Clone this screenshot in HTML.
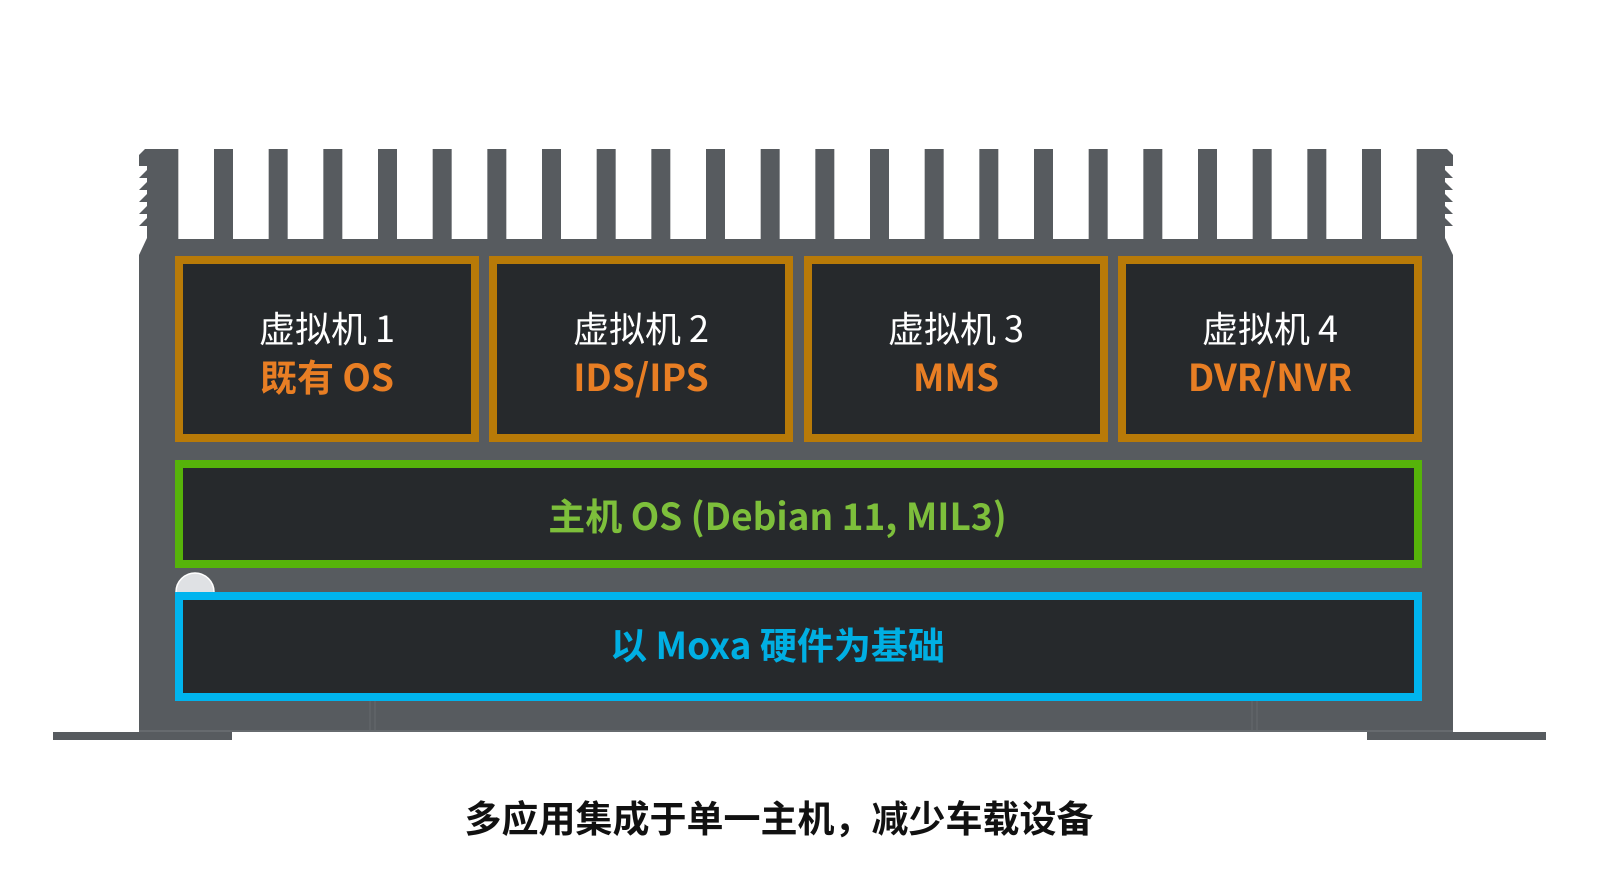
<!DOCTYPE html>
<html><head><meta charset="utf-8"><style>
html,body{margin:0;padding:0;background:#fff;}
body{width:1600px;height:892px;position:relative;overflow:hidden;font-family:"Liberation Sans","Noto Sans CJK SC",sans-serif;}
svg{position:absolute;left:0;top:0;}
.box{position:absolute;box-sizing:border-box;background:#26292c;display:flex;flex-direction:column;align-items:center;justify-content:center;text-align:center;}
.vm{border:8px solid #b87a08;top:256px;height:186px;width:304px;padding-top:4px;}
.w{color:#fff;font-size:36px;line-height:48px;font-family:"Noto Sans CJK SC",sans-serif;}
.o{color:#e87e24;font-size:37px;line-height:48px;font-weight:bold;font-family:"Noto Sans CJK SC",sans-serif;}
.t{font-family:"Noto Sans CJK SC",sans-serif;font-weight:bold;}
</style></head><body>
<svg width="1600" height="892" viewBox="0 0 1600 892">
<rect x="139" y="149" width="1314" height="583" fill="#575b5f"/>
<g fill="#fff">
<rect x="178.33" y="149" width="35.67" height="90"/>
<rect x="233.00" y="149" width="35.67" height="90"/>
<rect x="287.67" y="149" width="35.67" height="90"/>
<rect x="342.33" y="149" width="35.67" height="90"/>
<rect x="397.00" y="149" width="35.67" height="90"/>
<rect x="451.67" y="149" width="35.67" height="90"/>
<rect x="506.33" y="149" width="35.67" height="90"/>
<rect x="561.00" y="149" width="35.67" height="90"/>
<rect x="615.67" y="149" width="35.67" height="90"/>
<rect x="670.33" y="149" width="35.67" height="90"/>
<rect x="725.00" y="149" width="35.67" height="90"/>
<rect x="779.67" y="149" width="35.67" height="90"/>
<rect x="834.33" y="149" width="35.67" height="90"/>
<rect x="889.00" y="149" width="35.67" height="90"/>
<rect x="943.67" y="149" width="35.67" height="90"/>
<rect x="998.33" y="149" width="35.67" height="90"/>
<rect x="1053.00" y="149" width="35.67" height="90"/>
<rect x="1107.67" y="149" width="35.67" height="90"/>
<rect x="1162.33" y="149" width="35.67" height="90"/>
<rect x="1217.00" y="149" width="35.67" height="90"/>
<rect x="1271.67" y="149" width="35.67" height="90"/>
<rect x="1326.33" y="149" width="35.67" height="90"/>
<rect x="1381.00" y="149" width="35.67" height="90"/>
</g>
<polygon fill="#fff" points="138,149 145,149 139,155"/>
<polygon fill="#fff" points="1454,149 1447,149 1453,155"/>
<polygon fill="#fff" points="138,166 147,166 147,170 139,178 138,178"/>
<polygon fill="#fff" points="138,178 147,178 147,182 139,190 138,190"/>
<polygon fill="#fff" points="138,190 147,190 147,194 139,202 138,202"/>
<polygon fill="#fff" points="138,202 147,202 147,206 139,214 138,214"/>
<polygon fill="#fff" points="138,214 147,214 147,218 139,226 138,226"/>
<polygon fill="#fff" points="138,226 147,226 147,238 139,255 138,255"/>
<polygon fill="#fff" points="1454,166 1445,166 1445,170 1453,178 1454,178"/>
<polygon fill="#fff" points="1454,178 1445,178 1445,182 1453,190 1454,190"/>
<polygon fill="#fff" points="1454,190 1445,190 1445,194 1453,202 1454,202"/>
<polygon fill="#fff" points="1454,202 1445,202 1445,206 1453,214 1454,214"/>
<polygon fill="#fff" points="1454,214 1445,214 1445,218 1453,226 1454,226"/>
<polygon fill="#fff" points="1454,226 1445,226 1445,238 1453,255 1454,255"/>
<rect x="53" y="732" width="179" height="8" fill="#575b5f"/>
<rect x="1367" y="732" width="179" height="8" fill="#575b5f"/>
<line x1="139" y1="731" x2="1453" y2="731" stroke="#6b7074" stroke-width="1.5"/>
<line x1="370" y1="701" x2="370" y2="731" stroke="#65696d" stroke-width="1"/>
<line x1="375" y1="701" x2="375" y2="731" stroke="#65696d" stroke-width="1"/>
<line x1="1252" y1="701" x2="1252" y2="731" stroke="#65696d" stroke-width="1"/>
<line x1="1257" y1="701" x2="1257" y2="731" stroke="#65696d" stroke-width="1"/>
<circle cx="195" cy="592" r="19" fill="#dfe1e4" stroke="#fff" stroke-width="1.5"/>
</svg>
<div class="box vm" style="left:175px"><div class="w">虚拟机 1</div><div class="o">既有 OS</div></div>
<div class="box vm" style="left:489px"><div class="w">虚拟机 2</div><div class="o">IDS/IPS</div></div>
<div class="box vm" style="left:804px"><div class="w">虚拟机 3</div><div class="o">MMS</div></div>
<div class="box vm" style="left:1118px"><div class="w">虚拟机 4</div><div class="o">DVR/NVR</div></div>
<div class="box t" style="left:175px;top:460px;width:1247px;height:108px;border:8px solid #56b30a;color:#7dbf3b;font-size:37px;padding-right:42px;">主机 OS (Debian 11, MIL3)</div>
<div class="box t" style="left:175px;top:592px;width:1247px;height:109px;border:8px solid #00b4ee;color:#00afe3;font-size:37px;padding-right:42px;padding-bottom:8px;">以 Moxa 硬件为基础</div>
<div class="t" style="position:absolute;left:0;width:1558px;top:791px;text-align:center;font-size:37px;line-height:50px;color:#111;">多应用集成于单一主机，减少车载设备</div>
</body></html>
